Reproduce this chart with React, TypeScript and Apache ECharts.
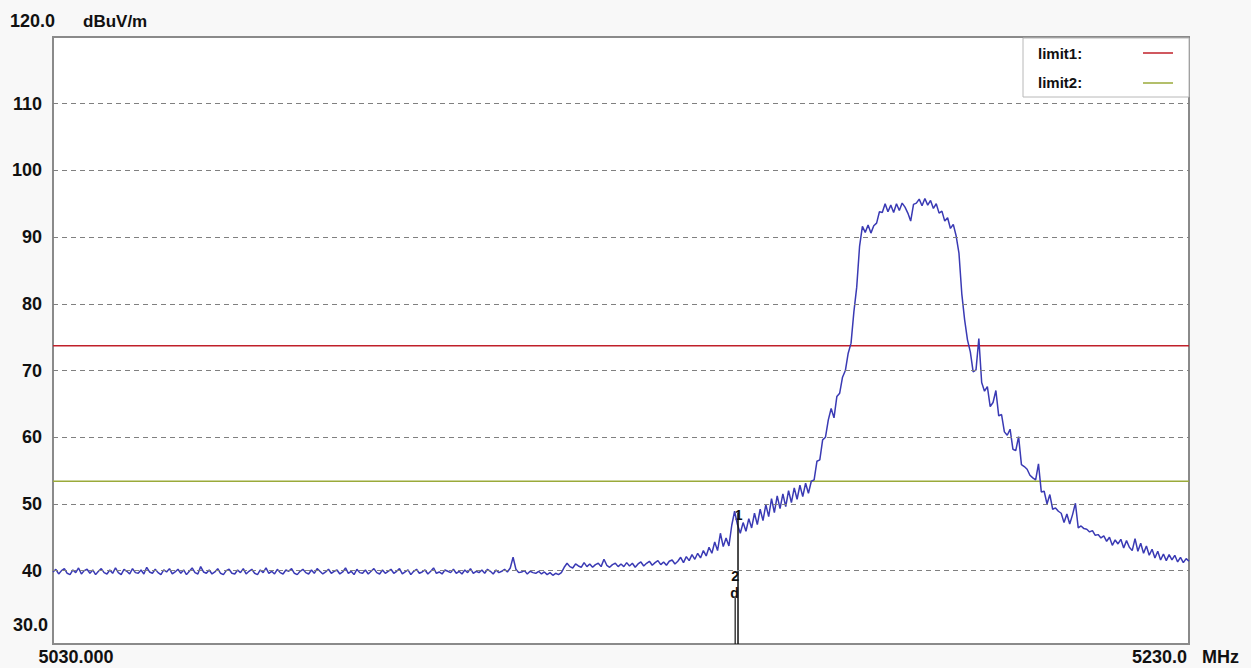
import React, { useEffect, useRef } from "react";
import * as echarts from "echarts";

// ---- data ----
const FREQ_START = 5030; // MHz
const FREQ_STEP = 0.5; // MHz between trace points
const FREQ_MIN = 5030;
const FREQ_MAX = 5230;
const LEVEL_MIN = 29;
const LEVEL_MAX = 120;
const gridValues = [40, 50, 60, 70, 80, 90, 100, 110];

// measured level (dBuV/m), one value per 0.5 MHz from 5030 to 5230 MHz
const levels = [
  // 5030
  39.8, 40.2, 39.5, 40.0, 40.3, 39.6, 39.4, 40.1, 39.7, 40.4, 39.5, 40.0, 40.2, 39.6, 40.1, 39.4, 39.9, 40.3, 39.7, 39.5,
  // 5040
  40.1, 39.6, 40.4, 39.7, 39.4, 40.2, 39.9, 39.5, 40.3, 39.7, 39.6, 40.1, 39.5, 40.5, 39.8, 39.6, 40.2, 39.7, 39.4, 40.1,
  // 5050
  39.8, 40.3, 39.5, 39.8, 40.2, 39.6, 40.1, 39.4, 39.9, 40.4, 39.7, 39.5, 40.6, 39.8, 39.6, 40.1, 39.5, 39.8, 40.3, 39.6,
  // 5060
  39.4, 40.0, 40.2, 39.6, 39.5, 40.1, 39.7, 40.3, 39.5, 39.9, 40.2, 39.6, 39.4, 40.1, 39.7, 40.4, 39.6, 39.9, 39.5, 40.2,
  // 5070
  39.7, 39.5, 40.1, 39.9, 40.3, 39.6, 39.4, 39.9, 40.2, 39.7, 39.5, 40.1, 39.6, 40.3, 39.9, 39.5, 39.8, 40.2, 39.6, 39.9,
  // 5080
  40.1, 39.5, 39.8, 40.4, 39.6, 39.9, 39.4, 40.2, 39.7, 39.6, 40.1, 39.5, 39.9, 40.3, 39.7, 39.5, 40.1, 39.6, 39.9, 40.2,
  // 5090
  39.6, 39.9, 40.3, 39.5, 39.8, 40.1, 39.4, 39.9, 40.2, 39.6, 39.8, 40.1, 39.5, 39.9, 40.4, 39.6, 39.8, 39.5, 40.1, 39.9,
  // 5100
  39.7, 40.2, 39.6, 39.9, 39.5, 40.1, 39.7, 40.3, 39.6, 39.9, 39.7, 40.1, 39.6, 40.2, 39.9, 39.5, 40.1, 39.7, 39.9, 40.2,
  // 5110
  39.8, 40.4, 42.0, 40.2, 39.7, 39.8, 40.0, 39.5, 39.9, 39.7, 39.6, 39.9, 39.5, 39.8, 39.4, 39.7, 39.3, 39.6, 39.4, 39.7,
  // 5120
  40.5, 41.1, 40.6, 40.4, 41.0, 40.7, 40.5, 41.2, 40.6, 41.0, 40.5, 40.9, 41.1, 40.6, 41.7, 40.8, 40.5, 40.9, 41.1, 40.6,
  // 5130
  41.0, 40.6, 41.2, 40.7, 41.1, 40.5, 41.0, 41.3, 40.7, 41.1, 41.4, 40.8, 41.2, 41.5, 40.9, 41.3, 40.8, 41.4, 41.6, 41.0,
  // 5140
  41.4, 42.0, 41.2, 42.1, 41.5, 42.4, 41.7, 42.6, 41.9, 43.0, 42.2, 43.5, 42.6, 44.3, 43.0, 45.6, 43.6, 44.9, 43.7, 46.8,
  // 5150
  48.9, 46.9, 45.6, 47.2, 45.9, 47.8, 46.4, 48.6, 46.9, 49.2, 47.5, 49.9, 48.1, 50.8, 48.7, 51.2, 49.3, 51.5, 49.6, 52.0,
  // 5160
  50.2, 52.4, 50.7, 52.8, 51.1, 53.1, 51.6, 53.4, 53.6, 56.4, 56.6, 59.6, 60.0, 62.6, 64.3, 62.9, 66.1, 66.6, 69.0, 70.0,
  // 5170
  72.6, 74.1, 78.8, 82.5, 88.6, 91.6, 90.7, 91.8, 90.6, 91.7, 92.1, 93.8, 93.7, 95.0, 93.8, 94.8, 93.7, 95.0, 94.0, 95.1,
  // 5180
  94.5, 93.6, 92.4, 94.9, 95.1, 95.7, 94.7, 95.8, 94.8, 95.5, 94.3, 95.0, 93.6, 93.9, 92.4, 92.9, 91.3, 91.9, 90.2, 87.6,
  // 5190
  81.5, 77.6, 74.6, 72.8, 69.8, 70.1, 74.8, 68.2, 66.9, 67.6, 64.6, 65.2, 67.0, 63.2, 63.4, 60.8, 60.3, 61.2, 58.2, 58.0,
  // 5200
  60.1, 55.9, 55.6, 55.2, 54.3, 53.9, 53.6, 56.0, 51.8, 51.9, 50.0, 51.4, 49.2, 49.4, 48.9, 48.6, 47.2, 48.5, 47.0, 48.4,
  // 5210
  50.1, 46.4, 46.7, 46.3, 46.2, 45.8, 46.0, 45.3, 45.4, 44.9, 45.2, 44.4, 45.0, 43.8, 44.6, 44.0, 44.7, 43.4, 44.5, 43.5,
  // 5220
  43.0, 44.8, 42.9, 44.1, 42.6, 43.7, 42.3, 43.2, 41.9, 42.9, 41.6, 42.5, 41.5, 42.4, 41.6, 42.3, 41.3, 42.0, 41.2, 41.8,
  // 5230
  41.4,
];

const limit1 = 73.7;
const limit2 = 53.4;
const markerFreq = 5150.6;
const markerTop = 48.7;
const marker2Freq = 5150.1;
const marker2Top = 36.0;
const markerLabels: [number, number, string][] = [
  [5150.7, 48.3, "1"],
  [5150.1, 39.2, "2"],
  [5150.0, 36.7, "d"],
];

const FONT = "'Liberation Sans', Arial, sans-serif";

export default function App() {
  const ref = useRef<HTMLDivElement>(null);
  useEffect(() => {
    if (!ref.current) return;
    const chart = echarts.init(ref.current, null, { renderer: "svg" });
    const trace = levels.map((v, i) => [FREQ_START + i * FREQ_STEP, v]);
    const bold = { fontFamily: FONT, fontWeight: "bold" as const, fill: "#111" };
    const staticGraphic: any[] = [
      { type: "text", x: 10, y: 21, style: { ...bold, text: "120.0", fontSize: 18, verticalAlign: "middle" } },
      { type: "text", x: 83, y: 21, style: { ...bold, text: "dBuV/m", fontSize: 17, verticalAlign: "middle" } },
      { type: "text", x: 48, y: 625, style: { ...bold, text: "30.0", fontSize: 18, align: "right", verticalAlign: "middle" } },
      { type: "text", x: 76, y: 657, style: { ...bold, text: "5030.000", fontSize: 18, align: "center", verticalAlign: "middle" } },
      { type: "text", x: 1187, y: 657, style: { ...bold, text: "5230.0", fontSize: 18, align: "right", verticalAlign: "middle" } },
      { type: "text", x: 1202, y: 657, style: { ...bold, text: "MHz", fontSize: 18, verticalAlign: "middle" } },
      {
        type: "rect",
        shape: { x: 1023, y: 38, width: 166, height: 59 },
        style: { fill: "#ffffff", stroke: "#b8b8b8", lineWidth: 1 },
      },
      { type: "text", x: 1038, y: 53, style: { ...bold, text: "limit1:", fontSize: 15, verticalAlign: "middle" } },
      { type: "text", x: 1038, y: 82, style: { ...bold, text: "limit2:", fontSize: 15, verticalAlign: "middle" } },
      { type: "line", shape: { x1: 1143, y1: 53, x2: 1173, y2: 53 }, style: { stroke: "#c0202a", lineWidth: 1.5 } },
      { type: "line", shape: { x1: 1143, y1: 83, x2: 1173, y2: 83 }, style: { stroke: "#9aaa3a", lineWidth: 1.5 } },
    ];
    chart.setOption({
      animation: false,
      backgroundColor: "#f8f8f8",
      grid: {
        left: 53,
        right: 62,
        top: 37,
        bottom: 24,
        show: true,
        backgroundColor: "#ffffff",
        borderColor: "#8a8a8a",
        borderWidth: 2,
      },
      xAxis: {
        type: "value",
        min: FREQ_MIN,
        max: FREQ_MAX,
        axisLabel: { show: false },
        axisLine: { show: false },
        axisTick: { show: false },
        splitLine: { show: false },
      },
      yAxis: {
        type: "value",
        min: LEVEL_MIN,
        max: LEVEL_MAX,
        axisLine: { show: false },
        axisTick: { show: false },
        splitLine: { show: false },
        axisLabel: {
          customValues: gridValues,
          formatter: (v: number) => String(v),
          fontFamily: FONT,
          fontWeight: "bold",
          fontSize: 18,
          color: "#111",
          margin: 11,
        },
      },
      series: [
        {
          type: "line",
          name: "grid",
          data: [],
          silent: true,
          markLine: {
            silent: true,
            symbol: ["none", "none"],
            label: { show: false },
            lineStyle: { color: "#808080", type: [5, 4], width: 1 },
            data: gridValues.map((v) => ({ yAxis: v })),
          },
        },
        {
          type: "line",
          name: "limit1",
          data: [
            [FREQ_MIN, limit1],
            [FREQ_MAX, limit1],
          ],
          symbol: "none",
          lineStyle: { color: "#c0202a", width: 1.5 },
          silent: true,
        },
        {
          type: "line",
          name: "limit2",
          data: [
            [FREQ_MIN, limit2],
            [FREQ_MAX, limit2],
          ],
          symbol: "none",
          lineStyle: { color: "#9aaa3a", width: 1.5 },
          silent: true,
        },
        {
          type: "line",
          name: "trace",
          data: trace,
          symbol: "none",
          lineStyle: { color: "#3a3ab4", width: 1.5 },
          silent: true,
        },
        {
          type: "line",
          name: "marker",
          data: [
            [markerFreq, markerTop],
            [markerFreq, LEVEL_MIN],
          ],
          symbol: "none",
          lineStyle: { color: "#111", width: 1.5 },
          silent: true,
        },
        {
          type: "line",
          name: "marker2",
          data: [
            [marker2Freq, marker2Top],
            [marker2Freq, LEVEL_MIN],
          ],
          symbol: "none",
          lineStyle: { color: "#111", width: 1.2 },
          silent: true,
        },
      ],
      graphic: staticGraphic,
    });
    const labelGraphic = markerLabels.map(([f, v, t]) => {
      const [px, py] = chart.convertToPixel({ gridIndex: 0 }, [f, v]) as number[];
      return {
        type: "text",
        x: px,
        y: py,
        style: {
          text: t,
          fontFamily: FONT,
          fontWeight: "bold",
          fontSize: 14,
          fill: "#111",
          align: "center",
          verticalAlign: "middle",
        },
      };
    });
    chart.setOption({ graphic: [...staticGraphic, ...labelGraphic] });
    return () => chart.dispose();
  }, []);
  return (
    <div
      ref={ref}
      style={{ position: "absolute", left: 0, top: 0, width: 1251, height: 668 }}
    />
  );
}
